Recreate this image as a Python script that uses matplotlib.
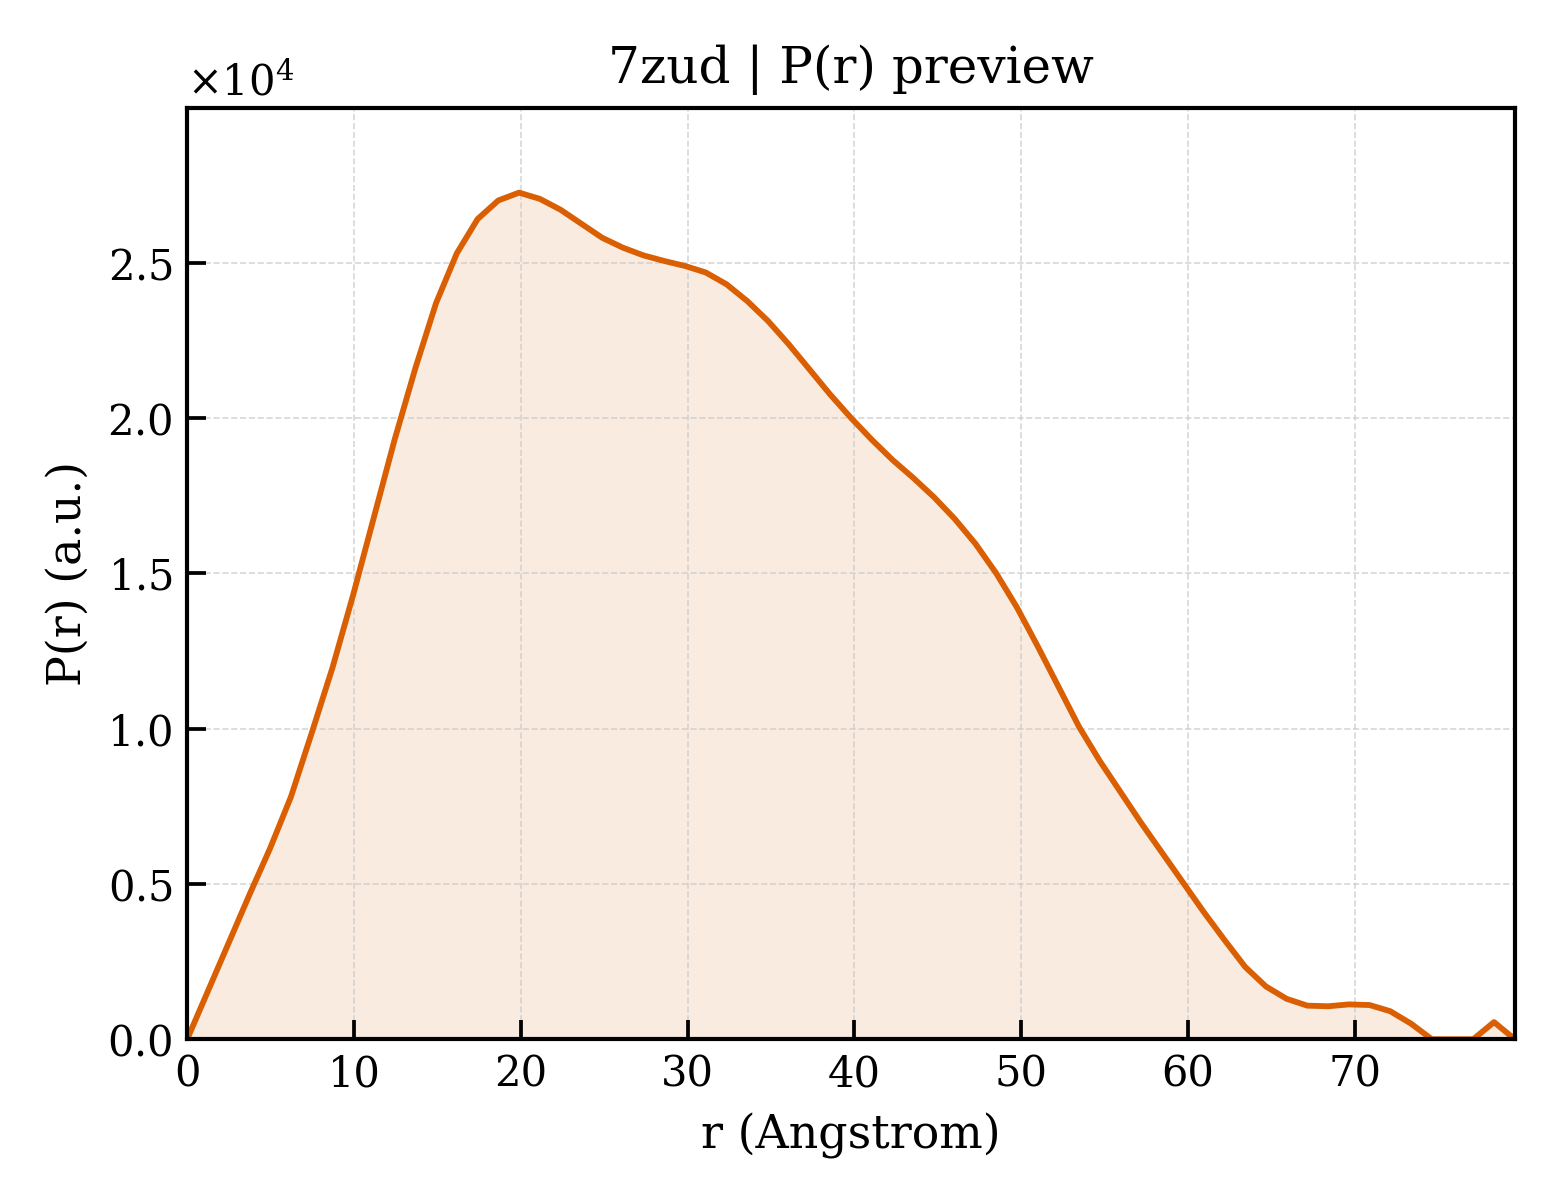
import numpy as np
import matplotlib
matplotlib.use("Agg")
import matplotlib.pyplot as plt
from matplotlib.ticker import ScalarFormatter

r_max = 79.6
n_points = 65
pr = np.array([
    0.000, 0.155, 0.310, 0.465, 0.615, 0.780, 0.985, 1.195, 1.430, 1.680,
    1.930, 2.160, 2.370, 2.530, 2.640, 2.700, 2.725, 2.705, 2.670, 2.625,
    2.580, 2.548, 2.523, 2.505, 2.489, 2.468, 2.430, 2.376, 2.312, 2.237,
    2.156, 2.075, 2.000, 1.930, 1.865, 1.807, 1.745, 1.675, 1.595, 1.500,
    1.390, 1.265, 1.135, 1.005, 0.895, 0.795, 0.695, 0.600, 0.505, 0.410,
    0.320, 0.233, 0.170, 0.130, 0.108, 0.106, 0.112, 0.110, 0.090, 0.050,
    0.000, 0.000, 0.000, 0.055, 0.000,
]) * 1e4
r = np.linspace(0, r_max, n_points)

title = "7zud | P(r) preview"
color = "#d95f02"

plt.rcParams["font.family"] = "DejaVu Serif"
plt.rcParams["mathtext.fontset"] = "dejavuserif"

fig, ax = plt.subplots(figsize=(5.2, 4.0), dpi=300)
fig.subplots_adjust(left=0.12, right=0.971, bottom=0.134, top=0.91)

ax.fill_between(r, pr, 0, color=color, alpha=0.12, linewidth=0)
ax.plot(r, pr, color=color, linewidth=1.4)

ax.set_xlim(0, r_max)
ax.set_ylim(0, pr.max() * 1.1)
ax.set_xticks(np.arange(0, 80, 10))

fmt = ScalarFormatter(useMathText=True)
fmt.set_powerlimits((0, 0))
ax.yaxis.set_major_formatter(fmt)

ax.set_title(title, fontsize=12)
ax.set_xlabel("r (Angstrom)", fontsize=11)
ax.set_ylabel("P(r) (a.u.)", fontsize=11)

ax.tick_params(direction="in", length=4.5, width=0.9, labelsize=10)
ax.yaxis.get_offset_text().set_fontsize(10)
for s in ax.spines.values():
    s.set_linewidth(1.0)
ax.grid(True, linestyle="--", linewidth=0.4, color="#cccccc", alpha=0.8)

fig.savefig("out.png", dpi=300)
